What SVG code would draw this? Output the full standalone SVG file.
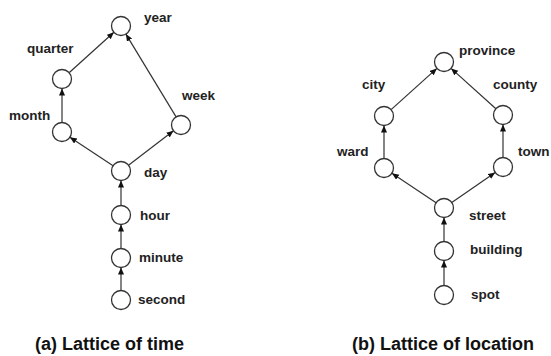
<svg xmlns="http://www.w3.org/2000/svg" width="551" height="356" viewBox="0 0 551 356">
<style>
.n{fill:#fff;stroke:#333;stroke-width:1.3}
.e{stroke:#333;stroke-width:1.2;fill:none;marker-end:url(#ah)}
.t{font-family:"Liberation Sans",Arial,sans-serif;font-weight:bold;font-size:13.5px;fill:#222}
.c{font-family:"Liberation Sans",Arial,sans-serif;font-weight:bold;font-size:18px;fill:#111}
</style>
<defs>
<marker id="ah" markerUnits="userSpaceOnUse" markerWidth="8" markerHeight="7" refX="7" refY="3" orient="auto">
<path d="M0,0 L7,3 L0,6 z" fill="#111"/>
</marker>
</defs>
<rect width="551" height="356" fill="#fff"/>
<g id="connectors">
<line class="e" x1="69.1" y1="72.7" x2="113.9" y2="32.3"/>
<line class="e" x1="62" y1="122.5" x2="62" y2="88.5"/>
<line class="e" x1="113.1" y1="165.8" x2="69.9" y2="137.2"/>
<line class="e" x1="128.5" y1="165.2" x2="173.5" y2="130.8"/>
<line class="e" x1="176.1" y1="116.9" x2="125.9" y2="34.1"/>
<line class="e" x1="121" y1="205.5" x2="121" y2="180.5"/>
<line class="e" x1="121" y1="248.5" x2="121" y2="224.5"/>
<line class="e" x1="121" y1="290.5" x2="121" y2="267.5"/>
<line class="e" x1="391.1" y1="109.6" x2="436.9" y2="68.4"/>
<line class="e" x1="495.9" y1="108.7" x2="451.1" y2="68.4"/>
<line class="e" x1="384" y1="158.5" x2="384" y2="125.5"/>
<line class="e" x1="503" y1="157.5" x2="503" y2="124.5"/>
<line class="e" x1="436.1" y1="202.7" x2="391.9" y2="173.3"/>
<line class="e" x1="451.8" y1="202.6" x2="495.2" y2="172.4"/>
<line class="e" x1="444" y1="241.5" x2="444" y2="217.5"/>
<line class="e" x1="444" y1="285.5" x2="444" y2="260.5"/>
</g>
<g id="year"><circle class="n" cx="121" cy="26" r="9.5"/><text class="t" x="144" y="22">year</text></g>
<g id="quarter"><circle class="n" cx="62" cy="79" r="9.5"/><text class="t" x="27" y="53">quarter</text></g>
<g id="month"><circle class="n" cx="62" cy="132" r="9.5"/><text class="t" x="9" y="120">month</text></g>
<g id="week"><circle class="n" cx="181" cy="125" r="9.5"/><text class="t" x="182" y="100">week</text></g>
<g id="day"><circle class="n" cx="121" cy="171" r="9.5"/><text class="t" x="144" y="177">day</text></g>
<g id="hour"><circle class="n" cx="121" cy="215" r="9.5"/><text class="t" x="140" y="220">hour</text></g>
<g id="minute"><circle class="n" cx="121" cy="258" r="9.5"/><text class="t" x="139" y="262">minute</text></g>
<g id="second"><circle class="n" cx="121" cy="300" r="9.5"/><text class="t" x="138" y="304">second</text></g>
<g id="province"><circle class="n" cx="444" cy="62" r="9.5"/><text class="t" x="459" y="55">province</text></g>
<g id="city"><circle class="n" cx="384" cy="116" r="9.5"/><text class="t" x="362" y="89">city</text></g>
<g id="county"><circle class="n" cx="503" cy="115" r="9.5"/><text class="t" x="493" y="89">county</text></g>
<g id="ward"><circle class="n" cx="384" cy="168" r="9.5"/><text class="t" x="337" y="156">ward</text></g>
<g id="town"><circle class="n" cx="503" cy="167" r="9.5"/><text class="t" x="518" y="156">town</text></g>
<g id="street"><circle class="n" cx="444" cy="208" r="9.5"/><text class="t" x="469" y="220">street</text></g>
<g id="building"><circle class="n" cx="444" cy="251" r="9.5"/><text class="t" x="470" y="254">building</text></g>
<g id="spot"><circle class="n" cx="444" cy="295" r="9.5"/><text class="t" x="471" y="299">spot</text></g>
<g id="captions">
<text class="c" x="35" y="350">(a) Lattice of time</text>
<text class="c" x="352" y="350">(b) Lattice of location</text>
</g>
</svg>
